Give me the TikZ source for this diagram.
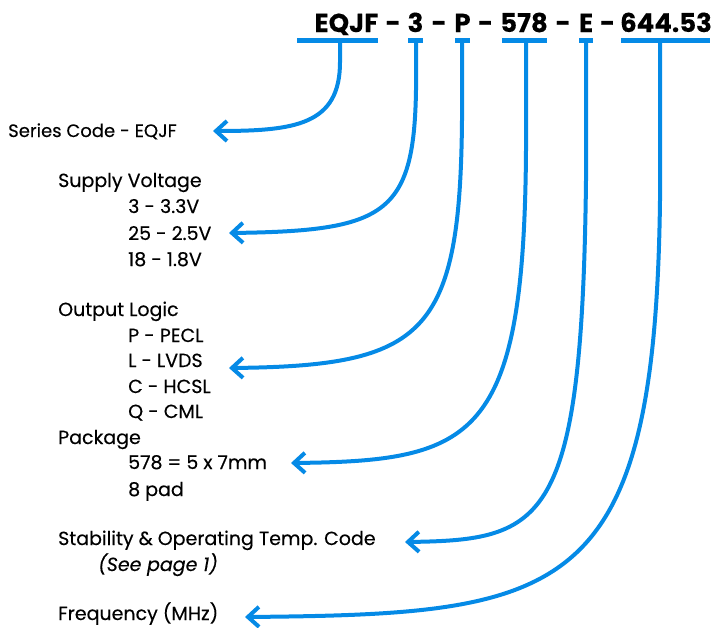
\documentclass[tikz,border=0pt]{standalone}
\usepackage{fontspec}
\setmainfont{Poppins}[FakeBold=0.3]
\usetikzlibrary{arrows.meta}
\definecolor{lblue}{RGB}{5,138,230}
\begin{document}
\begin{tikzpicture}[x=1pt,y=-1pt,
  lbl/.style={anchor=base west,inner sep=0pt,font=\fontsize{19}{19}\selectfont},
  code/.style={anchor=base,inner sep=0pt,font=\fontsize{26}{26}\selectfont\bfseries},
  bar/.style={draw=lblue,line width=5pt},
  conn/.style={draw=lblue,line width=4pt,-{Straight Barb[length=11pt,width=20pt,line width=4pt]}}]
\useasboundingbox (0,0) rectangle (714,627);
% title
\node[code] (cEQJF) at (346.5,32) {EQJF};
\node[code] (d1) at (393,32) {-};
\node[code] (c3) at (415.5,32) {3};
\node[code] (d2) at (439,32) {-};
\node[code] (cP) at (462.5,32) {P};
\node[code] (d3) at (485.5,32) {-};
\node[code] (c578) at (524,32) {578};
\node[code] (d4) at (563,32) {-};
\node[code] (cE) at (586,32) {E};
\node[code] (d5) at (607.5,32) {-};
\node[code] (cF) at (666,32) {644.53};
% bars
\draw[bar] (297,40) -- (378,40);
\draw[bar] (408,40) -- (423,40);
\draw[bar] (455,40) -- (470,40);
\draw[bar] (502,40) -- (547,40);
\draw[bar] (579,40) -- (593,40);
\draw[bar] (621,40) -- (710,40);
% labels
\node[lbl,font=\fontsize{18}{18}\selectfont] (series) at (8,137) {Series Code - EQJF};
\node[lbl] (supply) at (58,187) {Supply Voltage};
\node[lbl] (v33) at (128,213) {3 - 3.3V};
\node[lbl] (v25) at (128,240) {25 - 2.5V};
\node[lbl] (v18) at (128,266) {18 - 1.8V};
\node[lbl] (logic) at (58,316) {Output Logic};
\node[lbl] (pecl) at (128,342) {P - PECL};
\node[lbl] (lvds) at (128,367) {L - LVDS};
\node[lbl] (hcsl) at (128,393) {C - HCSL};
\node[lbl] (cml) at (128,418) {Q - CML};
\node[lbl] (pkg) at (58,444) {Package};
\node[lbl] (p578) at (128,469) {578 = 5 x 7mm};
\node[lbl] (pad) at (128,496) {8 pad};
\node[lbl] (stab) at (58,545) {Stability \& Operating Temp. Code};
\node[lbl] (see) at (98,571) {\itshape(See page 1)};
\node[lbl] (freq) at (58,620) {Frequency (MHz)};
% arrow targets
\coordinate (tS) at (213,131);
\coordinate (tV) at (229,233);
\coordinate (tL) at (229,368);
\coordinate (tP) at (291,463);
\coordinate (tT) at (405,542);
\coordinate (tF) at (245,617);
% stems
\coordinate (sS) at (340,40);
\coordinate (sV) at (416,40);
\coordinate (sL) at (462,40);
\coordinate (sP) at (526,40);
\coordinate (sT) at (586,40);
\coordinate (sF) at (660,40);
\draw[conn] (sS) -- (340,62) .. controls (340,125) and (295,131) .. (tS);
\draw[conn] (sV) -- (416,90) .. controls (414,215) and (385,231) .. (tV);
\draw[conn] (sL) -- (462,120) .. controls (460,335) and (425,366) .. (tL);
\draw[conn] (sP) -- (526,150) .. controls (524,440) and (475,461) .. (tP);
\draw[conn] (sT) -- (586,180) .. controls (582,525) and (545,540) .. (tT);
\draw[conn] (sF) -- (660,200) .. controls (655,600) and (565,614) .. (tF);
\end{tikzpicture}
\end{document}
